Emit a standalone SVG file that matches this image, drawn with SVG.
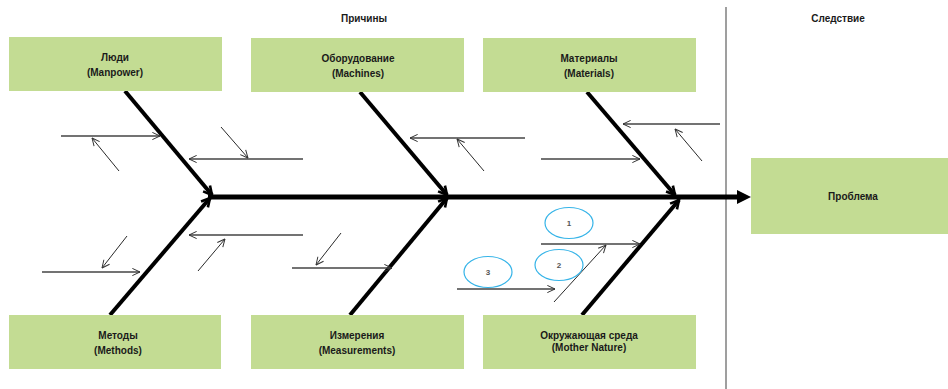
<svg xmlns="http://www.w3.org/2000/svg" width="948" height="389" viewBox="0 0 948 389">
  <style>
    .box { fill: #c3dc93; }
    .lbl { font-family: "Liberation Sans", Arial, sans-serif; font-size: 10px; font-weight: bold; fill: #1a1a1a; text-anchor: middle; }
    .hdr { font-family: "Liberation Sans", Arial, sans-serif; font-size: 10px; font-weight: bold; fill: #1a1a1a; text-anchor: middle; }
    .bone { stroke: #000; stroke-width: 4; fill: none; marker-end: url(#boneHead); }
    .cause { stroke: #444; stroke-width: 1.3; fill: none; marker-end: url(#thinHead); }
    .sub { stroke: #111; stroke-width: 0.9; fill: none; marker-end: url(#thinHead); }
    .oval { fill: none; stroke: #36b4e8; stroke-width: 1.2; }
    .num { font-family: "Liberation Sans", Arial, sans-serif; font-size: 8px; font-weight: bold; fill: #555; text-anchor: middle; }
  </style>
  <defs>
    <marker id="thinHead" markerUnits="userSpaceOnUse" viewBox="0 0 10 10" refX="9.5" refY="5" markerWidth="9" markerHeight="9" orient="auto">
      <path d="M1,1 L9.5,5 L1,9" fill="none" stroke="#333" stroke-width="1.1"/>
    </marker>
    <marker id="boneHead" markerUnits="userSpaceOnUse" viewBox="0 0 12 12" refX="10.5" refY="6" markerWidth="12" markerHeight="12" orient="auto">
      <path d="M2,1.5 L10.5,6 L2,10.5" fill="none" stroke="#000" stroke-width="2.6"/>
    </marker>
  </defs>

  <!-- headers -->
  <text class="hdr" x="364" y="22">Причины</text>
  <text class="hdr" x="838" y="22">Следствие</text>

  <!-- divider between causes and effect -->
  <line x1="726" y1="7" x2="726" y2="389" stroke="#7f7f7f" stroke-width="1.5"/>

  <g id="connectors">
    <!-- spine -->
    <line x1="208" y1="197" x2="740" y2="197" stroke="#000" stroke-width="5"/>
    <polygon points="737,190 751,197 737,204" fill="#000"/>

    <!-- main bones -->
    <line class="bone" x1="125" y1="91" x2="212" y2="195"/>
    <line class="bone" x1="360" y1="92" x2="447" y2="195"/>
    <line class="bone" x1="587" y1="92" x2="675" y2="195"/>
    <line class="bone" x1="110" y1="315" x2="210" y2="198"/>
    <line class="bone" x1="350" y1="315" x2="447" y2="198"/>
    <line class="bone" x1="582" y1="315" x2="679" y2="200"/>

    <!-- upper cause arrows -->
    <line class="cause" x1="61" y1="136" x2="160" y2="136"/>
    <line class="sub" x1="119" y1="171" x2="92" y2="138"/>
    <line class="cause" x1="303" y1="159" x2="189" y2="159"/>
    <line class="sub" x1="221" y1="127" x2="248" y2="158"/>
    <line class="cause" x1="525" y1="138" x2="410" y2="138"/>
    <line class="sub" x1="484" y1="171" x2="457" y2="139"/>
    <line class="cause" x1="541" y1="159" x2="640" y2="159"/>
    <line class="cause" x1="720" y1="124" x2="623" y2="124"/>
    <line class="sub" x1="702" y1="161" x2="675" y2="129"/>

    <!-- lower cause arrows -->
    <line class="cause" x1="42" y1="272" x2="140" y2="272"/>
    <line class="sub" x1="127" y1="236" x2="102" y2="268"/>
    <line class="cause" x1="303" y1="235" x2="189" y2="235"/>
    <line class="sub" x1="198" y1="271" x2="225" y2="239"/>
    <line class="cause" x1="292" y1="268" x2="392" y2="268"/>
    <line class="sub" x1="341" y1="233" x2="316" y2="265"/>
    <line class="cause" x1="541" y1="244" x2="640" y2="244"/>
    <line class="sub" x1="554" y1="302" x2="606" y2="245"/>
    <line class="cause" x1="457" y1="289" x2="555" y2="289"/>
  </g>

  <g id="node-people">
    <rect class="box" x="9" y="37" width="213" height="54"/>
    <text class="lbl" x="115" y="61">Люди</text>
    <text class="lbl" x="115" y="76">(Manpower)</text>
  </g>
  <g id="node-machines">
    <rect class="box" x="251" y="38" width="213" height="54"/>
    <text class="lbl" x="358" y="62">Оборудование</text>
    <text class="lbl" x="358" y="77">(Machines)</text>
  </g>
  <g id="node-materials">
    <rect class="box" x="483" y="38" width="213" height="54"/>
    <text class="lbl" x="589" y="62">Материалы</text>
    <text class="lbl" x="589" y="77">(Materials)</text>
  </g>
  <g id="node-methods">
    <rect class="box" x="9" y="315" width="212" height="54"/>
    <text class="lbl" x="118" y="339">Методы</text>
    <text class="lbl" x="118" y="354">(Methods)</text>
  </g>
  <g id="node-measurements">
    <rect class="box" x="251" y="315" width="213" height="54"/>
    <text class="lbl" x="357" y="339">Измерения</text>
    <text class="lbl" x="357" y="354">(Measurements)</text>
  </g>
  <g id="node-environment">
    <rect class="box" x="483" y="315" width="213" height="54"/>
    <text class="lbl" x="589" y="339">Окружающая среда</text>
    <text class="lbl" x="589" y="351">(Mother Nature)</text>
  </g>
  <g id="node-problem">
    <rect class="box" x="751" y="158" width="197" height="76"/>
    <text class="lbl" x="853" y="200">Проблема</text>
  </g>

  <g id="node-marker-1">
    <ellipse class="oval" cx="569" cy="223" rx="24" ry="15.5"/>
    <text class="num" x="569" y="226">1</text>
  </g>
  <g id="node-marker-2">
    <ellipse class="oval" cx="559" cy="265" rx="24" ry="15.5"/>
    <text class="num" x="559" y="268">2</text>
  </g>
  <g id="node-marker-3">
    <ellipse class="oval" cx="488" cy="272" rx="24" ry="15.5"/>
    <text class="num" x="488" y="275">3</text>
  </g>
</svg>
